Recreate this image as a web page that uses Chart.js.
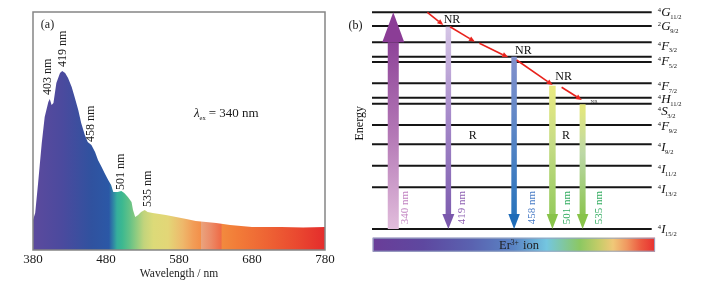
<!DOCTYPE html>
<html><head><meta charset="utf-8">
<script src="https://cdn.jsdelivr.net/npm/chart.js@4/dist/chart.umd.min.js"></script>
<style>
html,body{margin:0;padding:0;background:#fff;width:705px;height:287px;overflow:hidden}
#a{position:absolute;left:0;top:0}
#b{position:absolute;left:340px;top:0}
</style></head><body>
<canvas id="a" width="340" height="287"></canvas>
<canvas id="b" width="365" height="287"></canvas>
<script>
// ================= Panel (a): emission spectrum =================
const wavelengths = [380,383,387,392,396,401,403,405.5,408,412,417,420,424,428,433,437,442,446,451,455,460,465,469,474,478,483,487,490,492,496,501,505,510,515,517,520,524,528,533,537,544,553,562,576,590,603,617,631,650,680,720,750,780];
const intensities = [30,37,67,107,133,148,151,145,147,167,177,179,177,172,163,153,140,127,115,108,105,98,90,83,77,70,65,58,58,58,59,57,53,48,40,33,35,38,40,38,37,36,35,33,31,29,28,27,25,23,23,22.5,23];
const xTickValues = [380,480,580,680,780];
const xTitle = 'Wavelength / nm';
const peakLabels = ['403 nm','419 nm','458 nm','501 nm','535 nm'];
const peakLabelWl = [400.5,421.3,459,501,537.3];
const peakLabelVal = [155,183,108,60,43];
const spectrumStopWl = [380,420,460,484,490,495,502,512,522,532,545,565,585,600,609.5,610,624,638,638.5,660,700,740,780];
const spectrumStopColors = ['#5c4a9d','#4b4a9e','#30529f','#2b58a6','#2f86a4','#35ae9c','#3cb890','#62c187','#92cc80','#c2d47c','#dcda78','#e3d677','#eeb86b','#f29c56','#f3904a','#e9a47e','#ec8a66','#ef6a46','#f28a3e','#f27c38','#ee6434','#ea4a30','#e42c2c'];

function interpGradient(chart){
  const {chartArea, scales} = chart;
  if (!chartArea) return null;
  const x0 = scales.x.getPixelForValue(380), x1 = scales.x.getPixelForValue(780);
  const g = chart.ctx.createLinearGradient(x0,0,x1,0);
  spectrumStopWl.forEach((w,i)=>g.addColorStop((w-380)/400, spectrumStopColors[i]));
  return g;
}

const panelAPlugin = {
  id:'panelA',
  afterDraw(chart){
    const {ctx, chartArea:a, scales:{x,y}} = chart;
    ctx.save();
    ctx.strokeStyle='#858585'; ctx.lineWidth=1.5;
    ctx.strokeRect(a.left, a.top, a.right-a.left, a.bottom-a.top);
    ctx.fillStyle='#1a1a1a';
    ctx.font='12px "Liberation Serif"';
    peakLabels.forEach((t,i)=>{
      ctx.save();
      ctx.translate(x.getPixelForValue(peakLabelWl[i]), y.getPixelForValue(peakLabelVal[i]));
      ctx.rotate(-Math.PI/2);
      ctx.textAlign='left'; ctx.textBaseline='middle';
      ctx.fillText(t,0,0);
      ctx.restore();
    });
    // (a)
    ctx.textAlign='center'; ctx.textBaseline='middle';
    ctx.font='12px "Liberation Serif"';
    ctx.fillText('(a)', x.getPixelForValue(399.9), y.getPixelForValue(224.7));
    // lambda_ex = 340 nm
    let px = x.getPixelForValue(600.5), py = y.getPixelForValue(137.5)+4.5;
    ctx.textAlign='left'; ctx.textBaseline='alphabetic';
    ctx.font='italic 13px "Liberation Serif"';
    ctx.fillText('λ', px, py);
    px += ctx.measureText('λ').width;
    ctx.font='6.5px "Liberation Serif"';
    ctx.fillText('ex', px, py+2.5);
    px += ctx.measureText('ex').width + 3;
    ctx.font='13px "Liberation Serif"';
    ctx.fillText('= 340 nm', px, py);
    ctx.restore();
  }
};

new Chart(document.getElementById('a'), {
  type:'line',
  data:{datasets:[{
    data: wavelengths.map((w,i)=>({x:w,y:intensities[i]})),
    fill:'origin',
    backgroundColor:(c)=>interpGradient(c.chart),
    borderWidth:0, pointRadius:0, tension:0
  }]},
  options:{
    responsive:false, animation:false, events:[],
    layout:{padding:{left:33,right:15,top:12,bottom:6}},
    scales:{
      x:{type:'linear',min:380,max:780,
        afterBuildTicks:(s)=>{s.ticks = xTickValues.map(v=>({value:v}));},
        afterFit:(s)=>{s.height=31;},
        grid:{display:false,drawTicks:false},
        border:{display:false},
        ticks:{padding:2,color:'#1a1a1a',font:{family:'"Liberation Serif"',size:13},maxRotation:0,callback:(v)=>String(v)},
        title:{display:true,text:xTitle,color:'#222',font:{family:'"Liberation Serif"',size:11.5},padding:{top:0,bottom:0}}
      },
      y:{display:false,min:0,max:238}
    },
    plugins:{legend:{display:false},tooltip:{enabled:false}}
  },
  plugins:[panelAPlugin]
});

// ================= Panel (b): Er3+ energy level diagram =================
const levelEnergies = [0,41.7,63.3,84.7,104,125.3,131.3,145.7,167,172.3,186.7,203,216.7];
const termSup    = ['4','2','4','4','4','4','4','4','4','4','4','4'];
const termLetter = ['G','G','F','F','F','H','S','F','I','I','I','I'];
const termSub    = ['11/2','9/2','3/2','5/2','7/2','11/2','3/2','9/2','9/2','11/2','13/2','15/2'];
const termLabelE = [217.3,203,183.5,168,143,130.3,118,103,82,60,40,0];

const transitionLabels = ['340 nm','419 nm','458 nm','501 nm','535 nm'];
const transitionFromE  = [0,202.3,172.3,143.3,124.7];
const transitionToE    = [216.7,0,0,0,0];
const transitionColors = [
  ['#e2bddc','#b479b6','#8e4499','#8b3d96'],
  ['#d6c6e6','#a88ccb','#7f5fb0','#7a58ac'],
  ['#8290cc','#5c86c6','#2a74bc','#1f6cb8'],
  ['#eaea80','#c6dc86','#96cb5e','#88c34a'],
  ['#e6e87a','#bcd8a6','#8dc553','#88c34a']
];
const transitionTextColors = ['#c283c2','#8f62b3','#4a7cc6','#35ad62','#35ad62'];

const nrFromE = [216.7,202.3,185.7,169,141.7];
const nrToE   = [204,187.3,171.7,144,129];
const erBarStops = [0,0.18,0.35,0.5,0.616,0.734,0.8,0.851,0.9,0.95,1];
const erBarColors = ['#6a3d98','#5e48a0','#5a62b0','#5a84c4','#74c6e0','#8cc862','#c4cc68','#f0c878','#f09860','#ec5a40','#e83030'];

const layoutB = {
  arrowX:[7.6,27.3,50.8,64.5,75.3],
  shaft:[11,5.5,5.5,6.5,6],
  headW:[22,12,11.5,11.5,11.5],
  headL:[30,15,15,15,15],
  textX:[12.0,32.1,57.4,69.6,81.2],
  nrX0:[19.8,27.9,38.4,51.7,67.8],
  nrX1:[25.5,36.8,48.7,64.6,75.0]
};

function drawArrow(ctx, xs, yy, i){
  const x = xs.getPixelForValue(layoutB.arrowX[i]);
  const y0 = yy.getPixelForValue(transitionFromE[i]);
  const y1 = yy.getPixelForValue(transitionToE[i]);
  const dir = y1 < y0 ? -1 : 1;
  const hl = layoutB.headL[i], hw = layoutB.headW[i], sw = layoutB.shaft[i];
  const yb = y1 - dir*hl;
  const c = transitionColors[i];
  let g;
  if (dir < 0) { g = ctx.createLinearGradient(0,y0,0,yb); g.addColorStop(0,c[0]); g.addColorStop(0.5,c[1]); g.addColorStop(1,c[2]); }
  else { g = ctx.createLinearGradient(0,y0,0,yb); g.addColorStop(0,c[0]); g.addColorStop(0.45,c[1]); g.addColorStop(1,c[2]); }
  ctx.fillStyle = g;
  ctx.fillRect(x-sw/2, Math.min(y0,yb), sw, Math.abs(yb-y0));
  ctx.fillStyle = c[3];
  ctx.beginPath();
  ctx.moveTo(x-hw/2, yb); ctx.lineTo(x+hw/2, yb); ctx.lineTo(x, y1); ctx.closePath(); ctx.fill();
}

function drawRedArrow(ctx, xa, ya, xb, yb){
  ctx.strokeStyle='#e8221c'; ctx.fillStyle='#e8221c'; ctx.lineWidth=1.6;
  const ang = Math.atan2(yb-ya, xb-xa), L=6, W=2.6;
  const bx = xb - L*Math.cos(ang), by = yb - L*Math.sin(ang);
  ctx.beginPath(); ctx.moveTo(xa,ya); ctx.lineTo(bx,by); ctx.stroke();
  ctx.beginPath();
  ctx.moveTo(xb,yb);
  ctx.lineTo(bx + W*Math.sin(ang), by - W*Math.cos(ang));
  ctx.lineTo(bx - W*Math.sin(ang), by + W*Math.cos(ang));
  ctx.closePath(); ctx.fill();
}

function textAt(ctx, t, x, y, font, color, rot){
  ctx.save();
  ctx.font = font; ctx.fillStyle = color;
  ctx.translate(x,y); if (rot) ctx.rotate(rot);
  ctx.textAlign='center'; ctx.textBaseline='middle';
  ctx.fillText(t,0,0);
  ctx.restore();
}

const panelBPlugin = {
  id:'panelB',
  afterDatasetsDraw(chart){
    const {ctx, chartArea:a, scales:{x,y}} = chart;
    ctx.save();
    // Er3+ colour bar
    const bx0 = x.getPixelForValue(0.25), bx1 = x.getPixelForValue(101.2);
    const by0 = y.getPixelForValue(-8.7), by1 = y.getPixelForValue(-22.7);
    const g = ctx.createLinearGradient(bx0,0,bx1,0);
    erBarStops.forEach((s,i)=>g.addColorStop(s, erBarColors[i]));
    ctx.fillStyle = g; ctx.fillRect(bx0,by0,bx1-bx0,by1-by0);
    ctx.strokeStyle='#98a6c2'; ctx.lineWidth=1; ctx.strokeRect(bx0+0.5,by0+0.5,bx1-bx0-1,by1-by0-1);
    // Er3+ ion text
    let tx = x.getPixelForValue(52.2) - 19, ty = y.getPixelForValue(-15.7) + 4.5;
    ctx.fillStyle='#1e1e1e'; ctx.textAlign='left'; ctx.textBaseline='alphabetic';
    ctx.font='12.5px "Liberation Serif"'; ctx.fillText('Er', tx, ty); tx += ctx.measureText('Er').width;
    ctx.font='7.5px "Liberation Serif"'; ctx.fillText('3+', tx, ty-4.5); tx += ctx.measureText('3+').width + 1;
    ctx.font='12.5px "Liberation Serif"'; ctx.fillText(' ion', tx, ty);
    // vertical arrows
    for (let i=0;i<transitionLabels.length;i++) drawArrow(ctx, x, y, i);
    // NR arrows
    for (let i=0;i<nrFromE.length;i++){
      drawRedArrow(ctx, x.getPixelForValue(layoutB.nrX0[i]), y.getPixelForValue(nrFromE[i]),
                        x.getPixelForValue(layoutB.nrX1[i]), y.getPixelForValue(nrToE[i]));
    }
    // transition wavelength labels
    transitionLabels.forEach((t,i)=>{
      textAt(ctx, t, x.getPixelForValue(layoutB.textX[i]), y.getPixelForValue(21.5), '11px "Liberation Serif"', transitionTextColors[i], -Math.PI/2);
    });
    // NR / R labels
    const f12 = '12px "Liberation Serif"';
    textAt(ctx,'NR',x.getPixelForValue(28.6),y.getPixelForValue(209.3),f12,'#111');
    textAt(ctx,'NR',x.getPixelForValue(54.1),y.getPixelForValue(177.7),f12,'#111');
    textAt(ctx,'NR',x.getPixelForValue(68.5),y.getPixelForValue(151.8),f12,'#111');
    textAt(ctx,'NR',x.getPixelForValue(79.4),y.getPixelForValue(127),'5px "Liberation Serif"','#333');
    textAt(ctx,'R',x.getPixelForValue(36.0),y.getPixelForValue(92.7),f12,'#111');
    textAt(ctx,'R',x.getPixelForValue(69.4),y.getPixelForValue(92.7),f12,'#111');
    textAt(ctx,'(b)',x.getPixelForValue(-5.9),y.getPixelForValue(203.2),f12,'#111');
    textAt(ctx,'Energy',x.getPixelForValue(-4.3),y.getPixelForValue(105.7),f12,'#111',-Math.PI/2);
    // term symbols
    const lx = a.right + 6;
    ctx.fillStyle='#111'; ctx.textAlign='left'; ctx.textBaseline='alphabetic';
    termLetter.forEach((L,i)=>{
      const yc = y.getPixelForValue(termLabelE[i]);
      let px = lx;
      ctx.font='6.5px "Liberation Serif"'; ctx.fillText(termSup[i], px, yc); px += ctx.measureText(termSup[i]).width + 0.3;
      ctx.font='italic 13px "Liberation Serif"'; ctx.fillText(L, px, yc+4.3); px += ctx.measureText(L).width - 0.5;
      ctx.font='6.5px "Liberation Serif"'; ctx.fillText(termSub[i], px, yc+6.8);
    });
    ctx.restore();
  }
};

new Chart(document.getElementById('b'), {
  type:'scatter',
  data:{datasets: levelEnergies.map(E=>({
    data:[{x:0,y:E},{x:100,y:E}], showLine:true, borderColor:'#151515', borderWidth:2,
    pointRadius:0, clip:false
  }))},
  options:{
    responsive:false, animation:false, events:[],
    layout:{padding:{left:32,right:53.3,top:12.3,bottom:33}},
    scales:{x:{display:false,min:0,max:100}, y:{display:false,min:-25,max:216.7}},
    plugins:{legend:{display:false},tooltip:{enabled:false}}
  },
  plugins:[panelBPlugin]
});
</script>
</body></html>
